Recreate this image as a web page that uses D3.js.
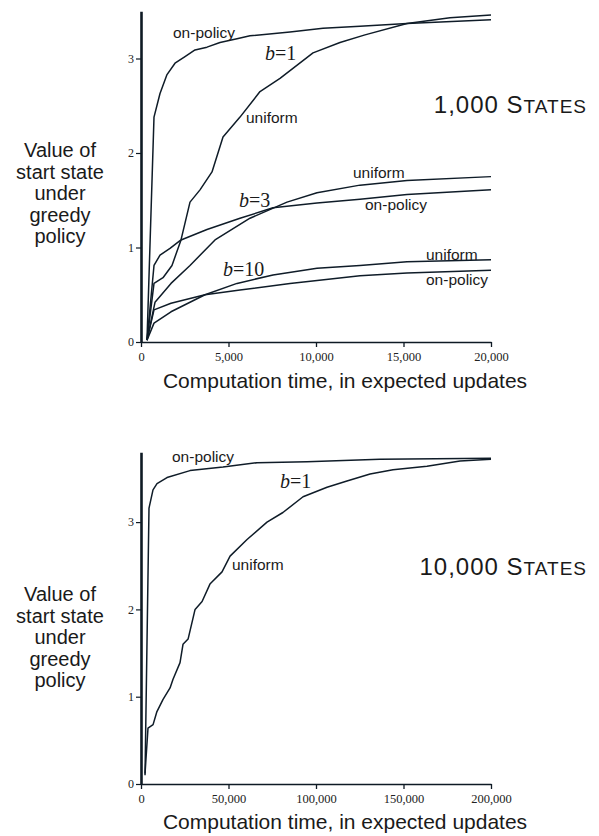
<!DOCTYPE html>
<html>
<head>
<meta charset="utf-8">
<script src="https://cdn.jsdelivr.net/npm/d3@7"></script>
<style>
  html, body { margin: 0; padding: 0; background: #fff; }
  svg { display: block; }
</style>
</head>
<body>
<svg id="chart" width="599" height="836"></svg>
<script>
// ---------- DATA ----------
// Top panel: 1,000 states (x = expected updates, y = value of start state)
const topX_b1_onpolicy = [343, 743, 1086, 1486, 1943, 2514, 3086, 3771, 4514, 5486, 6229, 8514, 10400, 12514, 15200, 20000];
const topY_b1_onpolicy = [0.02, 2.38, 2.63, 2.83, 2.95, 3.02, 3.09, 3.12, 3.17, 3.21, 3.24, 3.28, 3.32, 3.34, 3.37, 3.41];

const topX_b1_uniform = [343, 743, 1257, 1771, 2286, 2800, 3371, 4057, 4686, 5657, 6800, 7943, 9829, 11371, 12800, 15200, 17657, 20000];
const topY_b1_uniform = [0.02, 0.62, 0.68, 0.81, 1.08, 1.48, 1.61, 1.80, 2.17, 2.38, 2.65, 2.79, 3.06, 3.17, 3.25, 3.37, 3.43, 3.46];

const topX_b3_onpolicy = [343, 743, 1086, 1657, 2286, 3771, 5657, 7543, 10057, 12514, 15200, 20000];
const topY_b3_onpolicy = [0.02, 0.81, 0.92, 0.99, 1.08, 1.19, 1.31, 1.42, 1.47, 1.51, 1.56, 1.61];

const topX_b3_uniform = [343, 800, 1714, 2800, 4229, 6229, 8343, 10057, 12514, 15200, 20000];
const topY_b3_uniform = [0.02, 0.42, 0.62, 0.81, 1.08, 1.31, 1.48, 1.58, 1.66, 1.71, 1.75];

const topX_b10_onpolicy = [343, 743, 1714, 3657, 5657, 8514, 12514, 15200, 20000];
const topY_b10_onpolicy = [0.02, 0.34, 0.41, 0.50, 0.55, 0.62, 0.70, 0.73, 0.76];

const topX_b10_uniform = [343, 743, 1714, 3657, 5486, 7543, 10057, 12514, 15200, 20000];
const topY_b10_uniform = [0.02, 0.20, 0.32, 0.50, 0.62, 0.71, 0.78, 0.81, 0.85, 0.87];

// Bottom panel: 10,000 states
const botX_b1_onpolicy = [2300, 4571, 6857, 9143, 14857, 28000, 46857, 66286, 94857, 136571, 200000];
const botY_b1_onpolicy = [0.10, 3.16, 3.37, 3.44, 3.51, 3.59, 3.63, 3.68, 3.69, 3.72, 3.73];

const botX_b1_uniform = [2300, 4000, 6900, 9100, 12600, 16600, 18300, 22300, 24000, 26900, 30900, 34900, 39400, 46300, 50900, 60600, 72000, 81100, 92600, 106300, 117700, 130900, 144000, 163400, 182300, 200000];
const botY_b1_uniform = [0.12, 0.64, 0.68, 0.83, 0.97, 1.10, 1.20, 1.39, 1.60, 1.66, 2.00, 2.09, 2.29, 2.43, 2.61, 2.80, 3.00, 3.11, 3.29, 3.40, 3.47, 3.55, 3.60, 3.64, 3.70, 3.72];

// Tick values
const topXTicks = [0, 5000, 10000, 15000, 20000];
const botXTicks = [0, 50000, 100000, 150000, 200000];
const topYTicks = [0, 1, 2, 3];
const botYTicks = [0, 1, 2, 3];

// Text
const yLabelLines = ["Value of", "start state", "under", "greedy", "policy"];
const xLabel = "Computation time, in expected updates";

// ---------- DRAWING ----------
const svg = d3.select("#chart");
const SANS = "'Liberation Sans', Arial, Helvetica, sans-serif";
const SERIF = "'Liberation Serif', 'Times New Roman', Times, serif";
const INK = "#0e1a24";
const LINE = "#0f1c28";

function zip(xs, ys) { return xs.map((x, i) => ({x, y: ys[i]})); }

function panel(cfg) {
  const g = svg.append("g");
  const x = d3.scaleLinear().domain(cfg.xDomain).range([141, 491]);
  const y = d3.scaleLinear().domain(cfg.yDomain).range([cfg.y0, cfg.yTop]);

  // x axis
  const xa = g.append("g")
    .attr("transform", `translate(0,${cfg.y0})`)
    .call(d3.axisBottom(x).tickValues(cfg.xTicks).tickFormat(d3.format(",")).tickSize(5).tickSizeOuter(0));
  xa.select(".domain").attr("stroke", INK).attr("stroke-width", 1.6);
  xa.selectAll(".tick line").attr("stroke", INK).attr("stroke-width", 1.3);
  xa.selectAll(".tick text").attr("font-family", SERIF).attr("font-size", 12.5).attr("fill", "#222").attr("dy", "0.9em");

  // y axis
  const ya = g.append("g")
    .attr("transform", `translate(141,0)`)
    .call(d3.axisLeft(y).tickValues(cfg.yTicks).tickFormat(d3.format("d")).tickSize(5).tickSizeOuter(0));
  ya.select(".domain").attr("stroke", INK).attr("stroke-width", 2.6);
  ya.selectAll(".tick line").attr("stroke", INK).attr("stroke-width", 1.2);
  ya.selectAll(".tick text").attr("font-family", SERIF).attr("font-size", 12).attr("fill", "#222").attr("x", -7);

  // lines
  const line = d3.line().x(d => x(d.x)).y(d => y(d.y));
  cfg.series.forEach(s => {
    g.append("path").datum(s).attr("d", line)
      .attr("fill", "none").attr("stroke", LINE).attr("stroke-width", 1.5)
      .attr("stroke-linejoin", "round");
  });

  // y label
  const yl = g.append("text").attr("font-family", SANS).attr("font-size", 20)
    .attr("fill", "#1a1a1a").attr("text-anchor", "middle");
  yLabelLines.forEach((t, i) => {
    yl.append("tspan").attr("x", 60).attr("y", cfg.yLabelY + i * 21.6).text(t);
  });

  // x label
  g.append("text").attr("font-family", SANS).attr("font-size", 21).attr("fill", "#1a1a1a")
    .attr("text-anchor", "middle").attr("x", 345).attr("y", cfg.xLabelY).text(xLabel);

  // title with small caps
  const tt = g.append("text").attr("font-family", SANS).attr("fill", "#1a1a1a")
    .attr("text-anchor", "end").attr("x", 587).attr("y", cfg.titleY)
    .attr("letter-spacing", 1);
  tt.append("tspan").attr("font-size", 24).text(cfg.title + " S");
  tt.append("tspan").attr("font-size", 19).text("TATES");

  // annotations
  cfg.labels.forEach(l => {
    g.append("text").attr("font-family", SANS).attr("font-size", 15.5).attr("fill", "#1a1a1a")
      .attr("x", l.x).attr("y", l.y).text(l.t);
  });
  cfg.bLabels.forEach(l => {
    const t = g.append("text").attr("font-family", SERIF).attr("font-size", 20).attr("fill", "#1a1a1a")
      .attr("x", l.x).attr("y", l.y);
    t.append("tspan").attr("font-style", "italic").text("b");
    t.append("tspan").text("=" + l.t);
  });
}

panel({
  xDomain: [0, 20000], yDomain: [0, 3.5], y0: 342, yTop: 342 - 3.5 * 94.5,
  xTicks: topXTicks, yTicks: topYTicks,
  series: [
    zip(topX_b1_onpolicy, topY_b1_onpolicy), zip(topX_b1_uniform, topY_b1_uniform),
    zip(topX_b3_onpolicy, topY_b3_onpolicy), zip(topX_b3_uniform, topY_b3_uniform),
    zip(topX_b10_onpolicy, topY_b10_onpolicy), zip(topX_b10_uniform, topY_b10_uniform)
  ],
  yLabelY: 157, xLabelY: 388, titleY: 113, title: "1,000",
  labels: [
    {x: 173, y: 38, t: "on-policy"},
    {x: 246, y: 123, t: "uniform"},
    {x: 353, y: 178, t: "uniform"},
    {x: 365, y: 210, t: "on-policy"},
    {x: 426, y: 260, t: "uniform"},
    {x: 426, y: 285, t: "on-policy"}
  ],
  bLabels: [
    {x: 265, y: 60, t: "1"},
    {x: 239, y: 207, t: "3"},
    {x: 223, y: 276, t: "10"}
  ]
});

panel({
  xDomain: [0, 200000], yDomain: [0, 3.8], y0: 784, yTop: 784 - 3.8 * 87.3,
  xTicks: botXTicks, yTicks: botYTicks,
  series: [zip(botX_b1_onpolicy, botY_b1_onpolicy), zip(botX_b1_uniform, botY_b1_uniform)],
  yLabelY: 601, xLabelY: 829, titleY: 575, title: "10,000",
  labels: [
    {x: 172, y: 462, t: "on-policy"},
    {x: 232, y: 570, t: "uniform"}
  ],
  bLabels: [
    {x: 280, y: 488, t: "1"}
  ]
});
</script>
</body>
</html>
